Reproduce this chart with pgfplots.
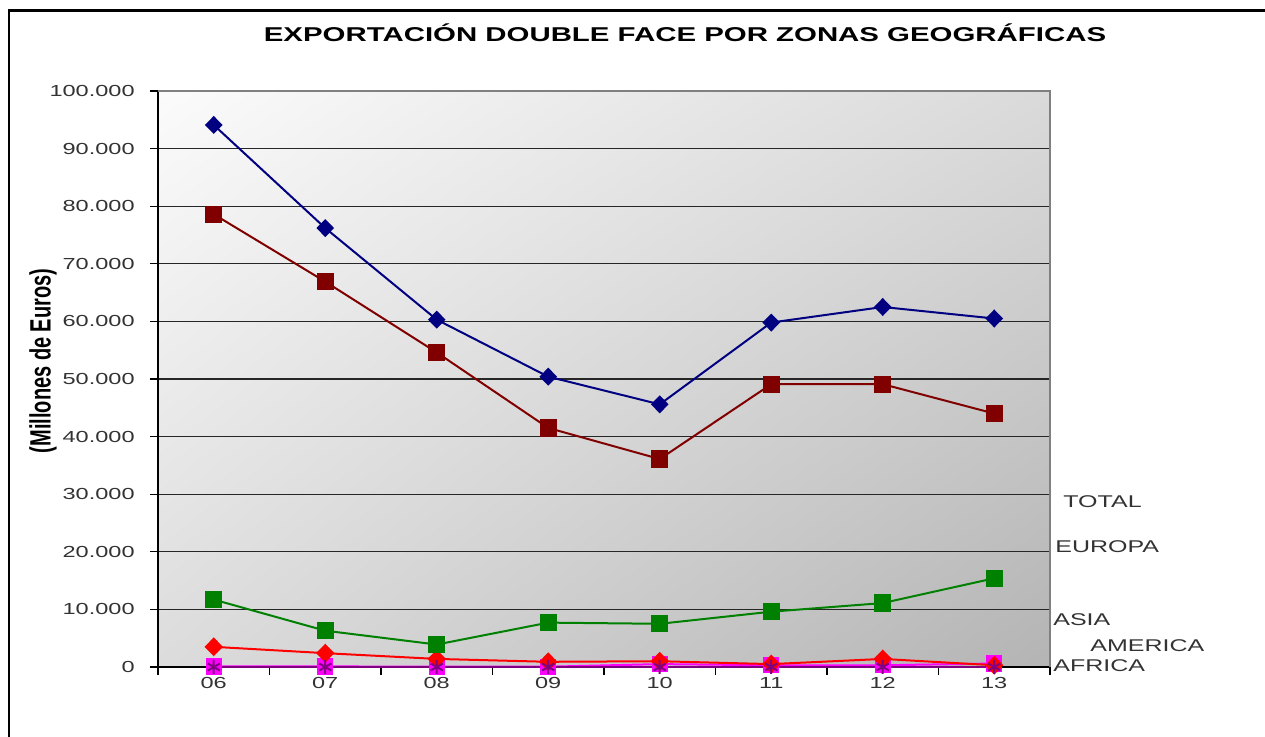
\documentclass[border=0pt]{standalone}
\usepackage{pgfplots}
\pgfplotsset{compat=1.18}
\usepackage{pgfplotstable}
\usepackage{fontspec}
\setmainfont{Liberation Sans}
\usetikzlibrary{shadings}
\definecolor{cTotal}{HTML}{000080}
\definecolor{cEuropa}{HTML}{800000}
\definecolor{cAsia}{HTML}{008000}
\definecolor{cAmerica}{HTML}{FF0000}
\definecolor{cAfrica}{HTML}{FF00FF}
\definecolor{cOtros}{HTML}{800080}
\definecolor{bgUL}{HTML}{FBFBFB}
\definecolor{bgUR}{HTML}{DADADA}
\definecolor{bgLL}{HTML}{DCDCDC}
\definecolor{bgLR}{HTML}{B4B4B4}
\definecolor{txt}{HTML}{333333}
\newcommand{\sx}[1]{\scalebox{1.47}[1]{#1}}
\pgfplotstableread{
x total europa asia america africa otros
0 94100 78600 11700 3500 100 0
1 76200 66900 6300 2400 100 0
2 60300 54600 3900 1400 50 0
3 50400 41500 7700 900 50 0
4 45600 36100 7500 1000 500 0
5 59800 49100 9600 500 300 0
6 62500 49100 11100 1400 300 0
7 60500 44000 15400 300 600 0
}\datatable
\begin{document}
\begin{tikzpicture}
\useasboundingbox (0,0) rectangle (632.5pt,368.5pt);
\draw[line width=1.3pt] (4.5pt,0) -- (4.5pt,363.3pt) -- (632.5pt,363.3pt);
\begin{axis}[
  at={(79pt,35pt)}, anchor=south west,
  width=446pt, height=288pt, scale only axis,
  xmin=-0.5, xmax=7.5, ymin=0, ymax=100000,
  clip=false,
  axis x line*=bottom, axis y line*=left,
  axis line style={black, line width=0.6pt},
  axis background/.style={shade, shading=bilinear interpolation,
    upper left=bgUL, upper right=bgUR, lower left=bgLL, lower right=bgLR},
  xtick={0,...,7},
  xticklabels={\sx{06},\sx{07},\sx{08},\sx{09},\sx{10},\sx{11},\sx{12},\sx{13}},
  minor xtick={-0.5,0.5,...,7.5},
  major x tick style={draw=none},
  ytick={0,10000,...,100000},
  scaled y ticks=false,
  yticklabel={\sx{\pgfmathprintnumber{\tick}}},
  /pgf/number format/.cd, fixed, 1000 sep={.}, assume math mode=true,
  /pgfplots/.cd,
  tick align=outside, major tick length=4pt, minor tick length=4pt,
  tick style={black, line width=0.6pt},
  ymajorgrids, major grid style={black!85, line width=0.6pt},
  tick label style={font=\fontsize{8}{9.6}\selectfont, text=txt},
  yticklabel style={anchor=east, inner sep=0pt, xshift=-7.5pt},
  xticklabel style={anchor=north, inner sep=0pt, yshift=-1pt},
  every axis plot/.append style={line width=1pt},
]
\addplot[cAfrica, mark=square*, mark size=3.6pt, mark options={fill=cAfrica}] table[x=x,y=africa] {\datatable};
\addplot[cAmerica, mark=diamond*, mark size=4pt, mark options={fill=cAmerica, xscale=1.3}] table[x=x,y=america] {\datatable};
\addplot[cOtros, mark=asterisk, mark size=3.5pt, mark options={line width=1pt}] table[x=x,y=otros] {\datatable};
\addplot[cAsia, mark=square*, mark size=3.8pt, mark options={fill=cAsia}] table[x=x,y=asia] {\datatable};
\addplot[cEuropa, mark=square*, mark size=3.8pt, mark options={fill=cEuropa}] table[x=x,y=europa] {\datatable};
\addplot[cTotal, mark=diamond*, mark size=3.8pt, mark options={fill=cTotal, xscale=1.3}] table[x=x,y=total] {\datatable};
\draw[gray, line width=1pt] (rel axis cs:0,1) -- (rel axis cs:1,1) -- (rel axis cs:1,0);
\end{axis}
\node[font=\bfseries\fontsize{10}{12}\selectfont] at (342.5pt,352pt) {\sx{EXPORTACIÓN DOUBLE FACE POR ZONAS GEOGRÁFICAS}};
\node[rotate=90, font=\bfseries\fontsize{10}{12}\selectfont] at (21.5pt,188pt) {\scalebox{1}[1.47]{(Millones de Euros)}};
\begin{scope}[every node/.style={anchor=west, inner sep=0pt, font=\fontsize{8.5}{10}\selectfont, text=txt}]
\node at (531.5pt,117.5pt) {\sx{TOTAL}};
\node at (527.5pt,95pt) {\sx{EUROPA}};
\node at (526.5pt,58.5pt) {\sx{ASIA}};
\node at (545pt,45.5pt) {\sx{AMERICA}};
\node at (526.5pt,35.5pt) {\sx{AFRICA}};
\end{scope}
\end{tikzpicture}
\end{document}
